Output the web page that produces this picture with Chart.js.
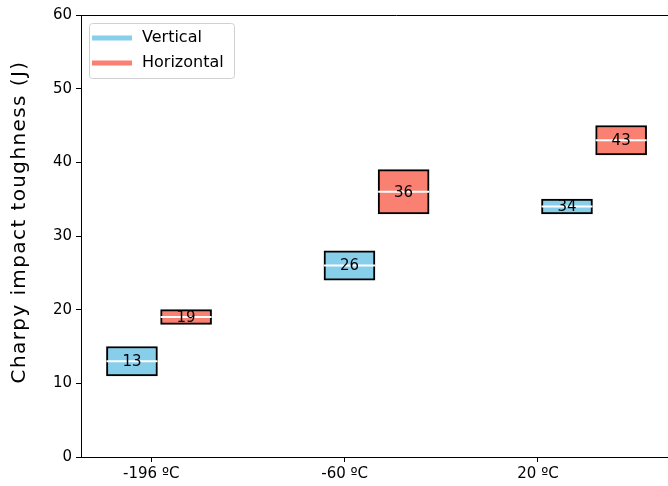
<!DOCTYPE html>
<html><head><meta charset="utf-8">
<script src="https://cdn.jsdelivr.net/npm/chart.js@4/dist/chart.umd.min.js"></script>
<style>
html,body{margin:0;padding:0;background:#fff;overflow:hidden;}
#wrap{position:relative;width:720px;height:486px;}
</style></head><body>
<div id="wrap"><canvas id="c" width="720" height="486"></canvas></div>
<script>
// ---- data ----
const categories = ['-196 ºC', '-60 ºC', '20 ºC'];
const seriesNames = ['Vertical', 'Horizontal'];
const verticalLow = [11, 24, 33];
const verticalHigh = [15, 28, 35];
const verticalMedian = [13, 26, 34];
const horizontalLow = [18, 33, 41];
const horizontalHigh = [20, 39, 45];
const horizontalMedian = [19, 36, 43];
const yTickValues = [0, 10, 20, 30, 40, 50, 60];
const yTitle = 'Charpy impact toughness (J)';

// ---- layout / style constants ----
const GROUP_STEP = 1.125;
const OFFSETS = [-0.1, 0.18];
const COLORS = ['#87CEEB', '#FA8072'];
const TICK_FONT = {family: 'DejaVu Sans', size: 15};

function boxes(lows, highs, s) {
  return lows.map((lo, i) => ({x: i * GROUP_STEP + OFFSETS[s], y: [lo, highs[i]]}));
}

const mediansPlugin = {
  id: 'medians',
  afterDatasetsDraw(chart) {
    const ctx = chart.ctx;
    const yScale = chart.scales.y;
    chart.data.datasets.forEach((ds, di) => {
      const meta = chart.getDatasetMeta(di);
      meta.data.forEach((bar, i) => {
        const m = ds.medians[i];
        const y = yScale.getPixelForValue(m);
        const w = bar.width;
        ctx.save();
        ctx.strokeStyle = '#ffffff';
        ctx.lineWidth = 2;
        ctx.beginPath();
        ctx.moveTo(bar.x - w / 2, y);
        ctx.lineTo(bar.x + w / 2, y);
        ctx.stroke();
        ctx.fillStyle = '#000';
        ctx.font = '15px "DejaVu Sans"';
        ctx.textAlign = 'center';
        ctx.textBaseline = 'middle';
        ctx.fillText(String(m), bar.x, y + 1);
        ctx.restore();
      });
    });
  }
};

const framePlugin = {
  id: 'frame',
  afterDraw(chart) {
    const {ctx, chartArea} = chart;
    ctx.save();
    // top spine
    ctx.strokeStyle = '#000';
    ctx.lineWidth = 1;
    ctx.beginPath();
    ctx.moveTo(chartArea.left, Math.round(chartArea.top) + 0.5);
    ctx.lineTo(chartArea.right, Math.round(chartArea.top) + 0.5);
    ctx.stroke();
    // y title
    ctx.fillStyle = '#000';
    ctx.font = '20px "DejaVu Sans"';
    try { ctx.letterSpacing = '1.4px'; } catch (e) {}
    ctx.textAlign = 'center';
    ctx.textBaseline = 'alphabetic';
    ctx.translate(25, 222);
    ctx.rotate(-Math.PI / 2);
    ctx.fillText(yTitle, 0, 0);
    ctx.restore();

    // legend
    ctx.save();
    const lx = chartArea.left + 8, ly = chartArea.top + 8, lw = 145, lh = 55;
    ctx.beginPath();
    ctx.roundRect(lx + 0.5, ly + 0.5, lw, lh, 3);
    ctx.fillStyle = 'rgba(255,255,255,0.8)';
    ctx.fill();
    ctx.strokeStyle = '#d0d0d0';
    ctx.lineWidth = 1;
    ctx.stroke();
    ctx.font = '16px "DejaVu Sans"';
    ctx.textBaseline = 'middle';
    ctx.textAlign = 'left';
    seriesNames.forEach((name, i) => {
      const y = ly + 15 + i * 25;
      ctx.strokeStyle = COLORS[i];
      ctx.lineWidth = 5;
      ctx.beginPath();
      ctx.moveTo(lx + 3, y);
      ctx.lineTo(lx + 43, y);
      ctx.stroke();
      ctx.fillStyle = '#000';
      ctx.fillText(name, lx + 53, y);
    });
    ctx.restore();
  }
};

new Chart(document.getElementById('c'), {
  type: 'bar',
  data: {
    datasets: [
      {label: seriesNames[0], data: boxes(verticalLow, verticalHigh, 0), medians: verticalMedian,
       backgroundColor: COLORS[0], borderColor: '#000', borderWidth: 2, borderSkipped: false,
       barThickness: 51, grouped: false},
      {label: seriesNames[1], data: boxes(horizontalLow, horizontalHigh, 1), medians: horizontalMedian,
       backgroundColor: COLORS[1], borderColor: '#000', borderWidth: 2, borderSkipped: false,
       barThickness: 51, grouped: false}
    ]
  },
  options: {
    responsive: false,
    devicePixelRatio: 1,
    animation: false,
    layout: {padding: {top: 15, right: 8, bottom: 0, left: 0}},
    plugins: {legend: {display: false}, tooltip: {enabled: false}},
    scales: {
      x: {
        type: 'linear', min: -0.3635, max: 2.9, offset: false,
        afterBuildTicks: s => { s.ticks = categories.map((_, i) => ({value: i})); },
        afterFit: s => { s.height = 29; },
        ticks: {callback: v => categories[v], font: TICK_FONT, color: '#000', padding: 3,
                maxRotation: 0, autoSkip: false},
        grid: {drawOnChartArea: false, offset: false, tickLength: 5, tickColor: '#000', tickWidth: 1},
        border: {color: '#000', width: 1}
      },
      y: {
        min: 0, max: 60,
        afterBuildTicks: s => { s.ticks = yTickValues.map(v => ({value: v})); },
        afterFit: s => { s.width = 81; },
        ticks: {font: TICK_FONT, color: '#000', padding: 4},
        grid: {drawOnChartArea: false, tickLength: 5, tickColor: '#000', tickWidth: 1},
        border: {color: '#000', width: 1}
      }
    }
  },
  plugins: [mediansPlugin, framePlugin]
});
</script>
</body></html>
